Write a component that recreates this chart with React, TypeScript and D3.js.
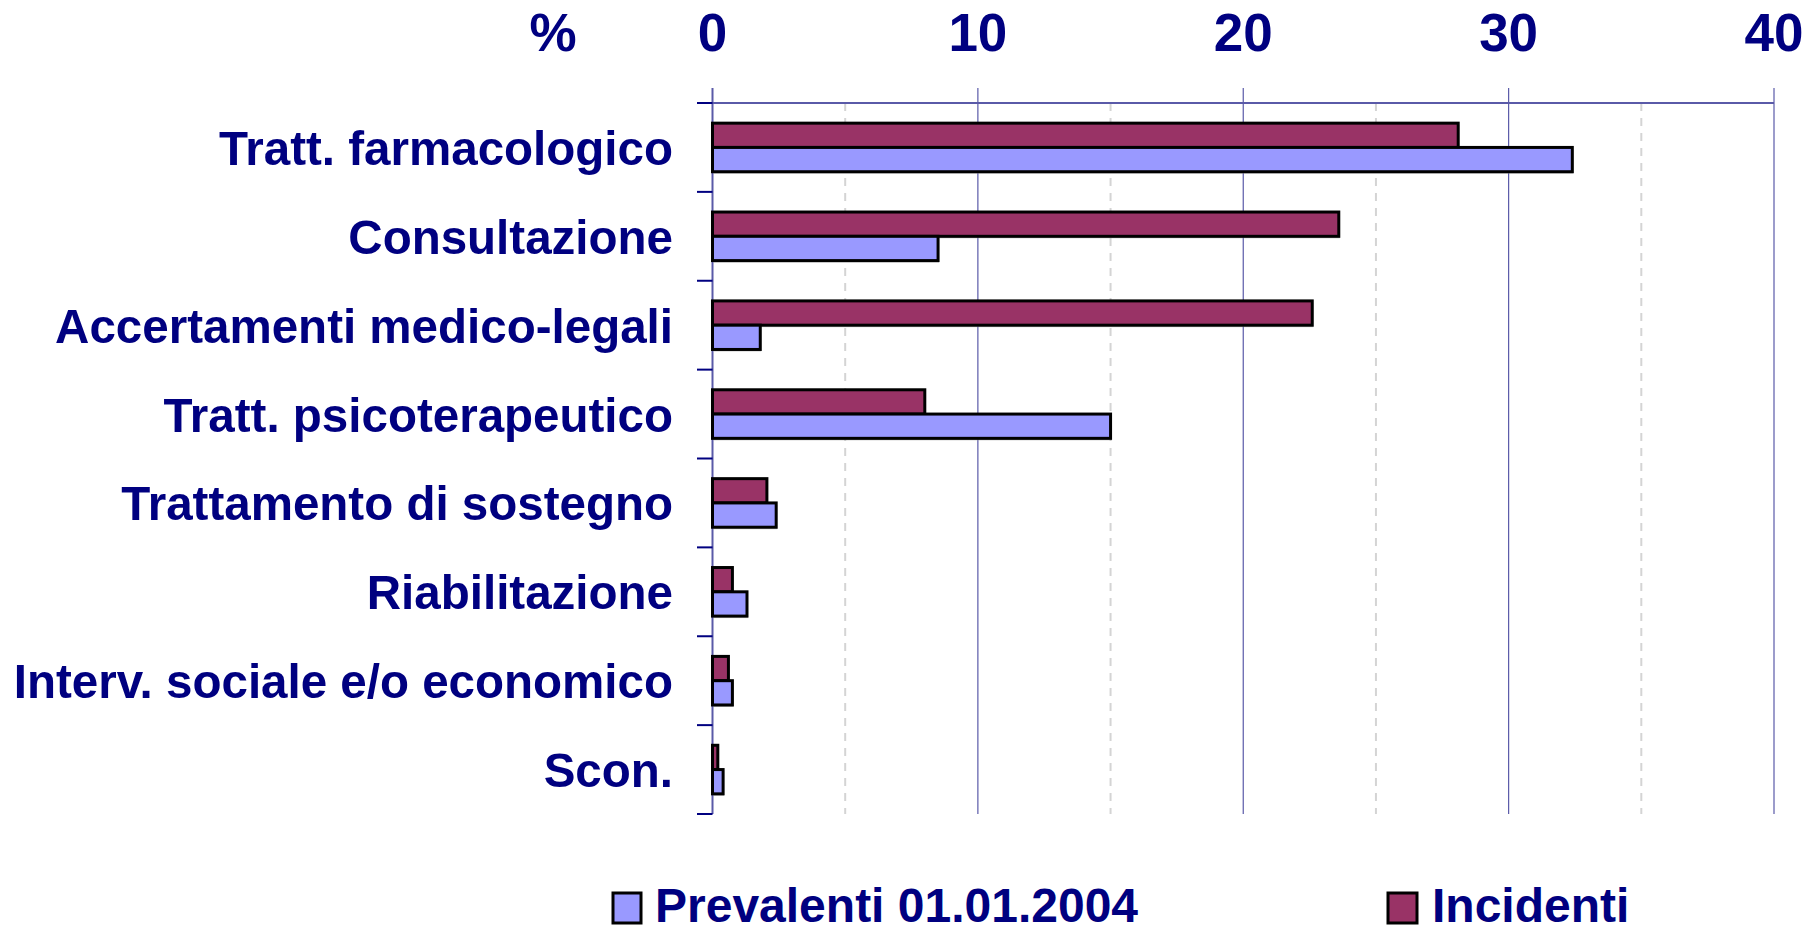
import React from 'react';
import * as d3 from 'd3';

const categories = [
  'Tratt. farmacologico',
  'Consultazione',
  'Accertamenti medico-legali',
  'Tratt. psicoterapeutico',
  'Trattamento di sostegno',
  'Riabilitazione',
  'Interv. sociale e/o economico',
  'Scon.',
];
const prevalenti = [32.4, 8.5, 1.8, 15.0, 2.4, 1.3, 0.75, 0.4];
const incidenti = [28.1, 23.6, 22.6, 8.0, 2.05, 0.75, 0.6, 0.2];
const seriesNames = ['Incidenti', 'Prevalenti 01.01.2004'];
const majorTicks = [0, 10, 20, 30, 40];
const minorTicks = [5, 15, 25, 35];

const W = 1804;
const H = 932;
const NAVY = '#000080';
const FONT = '"Liberation Sans", Arial, sans-serif';
const COLORS: Record<string, string> = {
  Incidenti: '#993366',
  'Prevalenti 01.01.2004': '#9999FF',
};

export default function App() {
  const x = d3.scaleLinear().domain([0, 40]).range([712.5, 1774]);
  const y = d3.scaleBand<string>().domain(categories).range([103, 814]).padding(0);
  const inner = d3
    .scaleBand<string>()
    .domain(seriesNames)
    .range([0, y.bandwidth()])
    .paddingInner(0)
    .paddingOuter(0.83);
  const top = 103;
  const bottom = 814;
  const values: Record<string, number[]> = {
    Incidenti: incidenti,
    'Prevalenti 01.01.2004': prevalenti,
  };
  const boundaries = d3.range(categories.length + 1).map((i) => top + i * y.step());

  return (
    <svg
      width={W}
      height={H}
      style={{ position: 'absolute', left: 0, top: 0, background: '#fff' }}
      fontFamily={FONT}
      fontWeight="bold"
    >
      {minorTicks.map((t) => (
        <line
          key={'m' + t}
          x1={x(t)}
          x2={x(t)}
          y1={top}
          y2={bottom}
          stroke="#d4d4d4"
          strokeWidth={2}
          strokeDasharray="8,7"
        />
      ))}
      {majorTicks.map((t) => (
        <line
          key={'g' + t}
          x1={x(t)}
          x2={x(t)}
          y1={88}
          y2={bottom}
          stroke="#5a5aa8"
          strokeWidth={t === 0 ? 2 : 1.2}
        />
      ))}
      <line x1={697} x2={x(40)} y1={top} y2={top} stroke="#5a5aa8" strokeWidth={2} />
      {boundaries.map((b, i) => (
        <line key={'c' + i} x1={697} x2={x(0)} y1={b} y2={b} stroke={NAVY} strokeWidth={2} />
      ))}
      {categories.map((c, i) => (
        <g key={c}>
          {seriesNames.map((s) => {
            const v = values[s][i];
            const by = (y(c) as number) + (inner(s) as number);
            const bw = x(v) - x(0);
            return (
              <g key={s}>
                <rect
                  x={x(0) + 1}
                  y={by + 2}
                  width={bw}
                  height={inner.bandwidth()}
                  fill="#a0a0a0"
                  opacity={0.6}
                />
                <rect
                  x={x(0)}
                  y={by}
                  width={bw}
                  height={inner.bandwidth()}
                  fill={COLORS[s]}
                  stroke="#000"
                  strokeWidth={3}
                />
              </g>
            );
          })}
        </g>
      ))}
      {categories.map((c) => (
        <text
          key={'l' + c}
          transform={`translate(673,${(y(c) as number) + y.bandwidth() / 2 + 17.5}) scale(0.98,1)`}
          textAnchor="end"
          fontSize={48.5}
          fill={NAVY}
        >
          {c}
        </text>
      ))}
      {majorTicks.map((t) => (
        <text key={'t' + t} x={x(t)} y={51} textAnchor="middle" fontSize={53} fill={NAVY}>
          {t}
        </text>
      ))}
      <text x={553} y={51} textAnchor="middle" fontSize={53} fill={NAVY}>
        %
      </text>
      <g>
        <rect x={613} y={893} width={28} height={30} fill={COLORS['Prevalenti 01.01.2004']} stroke="#000" strokeWidth={3} />
        <text x={655} y={922} fontSize={48} fill={NAVY}>
          Prevalenti 01.01.2004
        </text>
        <rect x={1388} y={893} width={29} height={30} fill={COLORS['Incidenti']} stroke="#000" strokeWidth={3} />
        <text x={1432} y={922} fontSize={48} fill={NAVY}>
          Incidenti
        </text>
      </g>
    </svg>
  );
}
